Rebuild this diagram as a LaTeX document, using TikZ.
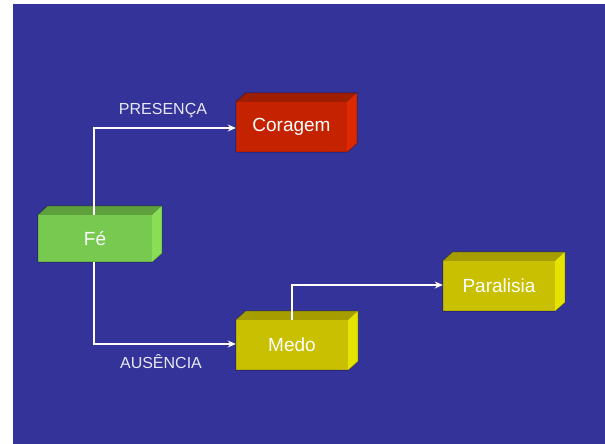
\documentclass[tikz,border=0pt]{standalone}
\usepackage{fontspec}
\setmainfont{Liberation Sans}
\usetikzlibrary{arrows.meta}
\definecolor{bg}{RGB}{51,51,153}
\definecolor{gfront}{RGB}{119,201,80}
\definecolor{gtop}{RGB}{94,160,60}
\definecolor{gside}{RGB}{136,222,85}
\definecolor{rfront}{RGB}{196,34,0}
\definecolor{rtop}{RGB}{160,30,0}
\definecolor{rside}{RGB}{222,40,0}
\definecolor{yfront}{RGB}{200,192,0}
\definecolor{ytop}{RGB}{166,158,0}
\definecolor{yside}{RGB}{228,228,0}
\definecolor{lbl}{RGB}{232,232,245}
\tikzset{
  boxnode/.style={rectangle, inner sep=0pt, text=white, font=\fontsize{19}{21}\selectfont},
  lblnode/.style={inner sep=0pt, text=lbl, font=\fontsize{16}{18}\selectfont},
  conn/.style={draw=white, line width=2pt, -{Stealth[length=8pt,width=7pt]}},
}
\newcommand{\boxfaces}[3]{%
  \fill[#2] (#1.north west) -- ++(10,-9) -- ([shift={(10,-9)}]#1.north east) -- (#1.north east) -- cycle;
  \fill[#3] (#1.north east) -- ++(10,-9) -- ([shift={(10,-9)}]#1.south east) -- (#1.south east) -- cycle;
  \draw[black, opacity=0.25, line width=1pt, line join=round] (#1.south west) -- (#1.north west) -- ++(10,-9) -- ([shift={(10,-9)}]#1.north east) -- ([shift={(10,-9)}]#1.south east) -- (#1.south east) -- cycle;
}
\begin{document}
\begin{tikzpicture}[x=1pt,y=-1pt]
\useasboundingbox (0,0) rectangle (605,444);
\fill[bg] (13,4) rectangle (605,444);
% boxes
\node[boxnode, fill=gfront, minimum width=114pt, minimum height=47pt] (fe) at (95,238.5) {Fé};
\boxfaces{fe}{gtop}{gside}
\node[boxnode, fill=rfront, minimum width=111pt, minimum height=50pt] (cor) at (291.5,127) {Coragem};
\boxfaces{cor}{rtop}{rside}
\node[boxnode, fill=yfront, minimum width=112pt, minimum height=50pt] (medo) at (292,345) {Medo};
\boxfaces{medo}{ytop}{yside}
\node[boxnode, fill=yfront, minimum width=112pt, minimum height=50pt] (par) at (499,286) {Paralisia};
\boxfaces{par}{ytop}{yside}
% connectors
\coordinate (c1) at (94,128);
\coordinate (c2) at (94,344);
\coordinate (c3) at (292,285);
\draw[conn] (fe.north -| c1) -- (c1) -- (c1 -| cor.west);
\draw[conn] (fe.south -| c2) -- (c2) -- (c2 -| medo.west);
\draw[conn] (medo.north -| c3) -- (c3) -- (c3 -| par.west);
% labels
\node[lblnode] (pres) at (163,111) {PRESENÇA};
\node[lblnode] (aus) at (161,362) {AUSÊNCIA};
\end{tikzpicture}
\end{document}
